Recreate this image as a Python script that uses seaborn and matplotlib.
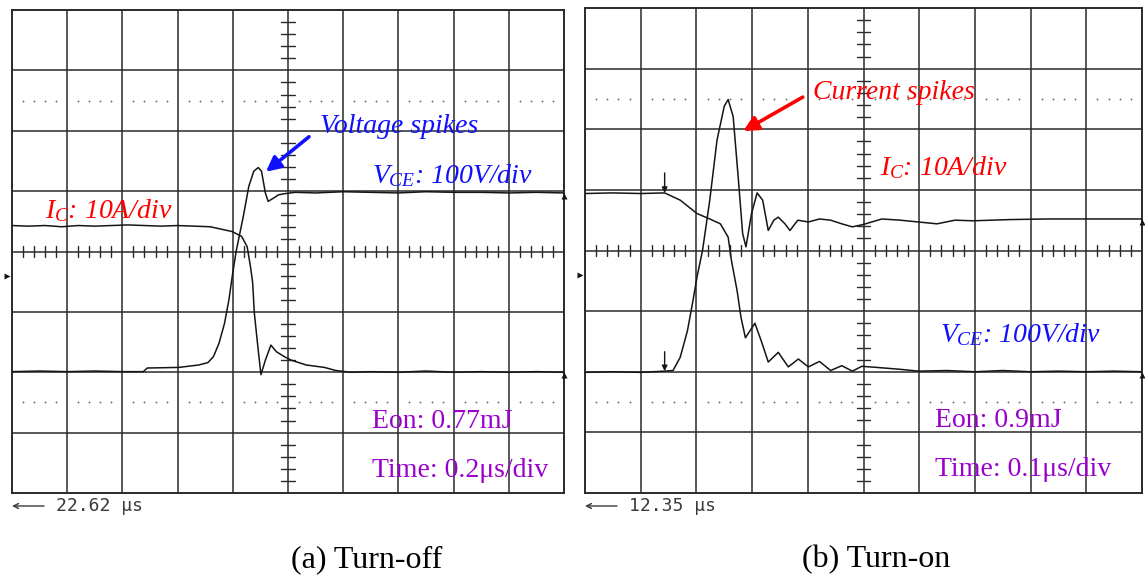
import matplotlib
matplotlib.use("Agg")
import matplotlib.pyplot as plt
import seaborn as sns

# ---------------- data (in oscilloscope divisions) ----------------
# (a) Turn-off : collector current (10 A/div) and V_CE (100 V/div)
off_ic_t = [0, 0.3, 0.6, 0.9, 1.2, 1.5, 1.8, 2.1, 2.4, 2.7, 3.0, 3.3, 3.59, 3.79, 3.99,
            4.16, 4.26, 4.32, 4.36, 4.39, 4.46, 4.51, 4.59, 4.69, 4.79, 4.93, 5.06, 5.33,
            5.66, 5.86, 6.13, 6.5, 7.0, 7.5, 8.0, 8.5, 9.0, 9.5, 10.0]
off_ic_v = [0.43, 0.42, 0.43, 0.41, 0.43, 0.42, 0.43, 0.44, 0.43, 0.42, 0.43, 0.42, 0.41,
            0.37, 0.33, 0.25, 0.08, -0.25, -0.52, -1.02, -1.63, -2.04, -1.80, -1.55, -1.66,
            -1.74, -1.80, -1.88, -1.92, -1.97, -2.00, -1.99, -2.00, -1.98, -2.00, -1.99,
            -2.00, -1.99, -2.00]
off_vce_t = [0, 0.5, 1.0, 1.5, 2.0, 2.38, 2.45, 3.02, 3.38, 3.55, 3.65, 3.75, 3.85, 3.93,
             3.99, 4.06, 4.19, 4.29, 4.38, 4.46, 4.52, 4.59, 4.64, 4.73, 4.83, 4.96, 5.13,
             5.5, 6.0, 6.5, 7.0, 7.5, 8.0, 8.5, 9.0, 9.5, 10.0]
off_vce_v = [-1.99, -1.98, -1.99, -1.98, -1.99, -1.99, -1.93, -1.92, -1.88, -1.84, -1.74,
             -1.52, -1.19, -0.80, -0.41, 0.00, 0.58, 1.08, 1.33, 1.39, 1.33, 0.97, 0.83,
             0.88, 0.94, 0.96, 0.98, 0.97, 0.99, 0.98, 0.97, 0.99, 0.98, 0.98, 0.97, 0.98,
             0.97]

# (b) Turn-on
on_ic_t = [0, 0.5, 1.0, 1.43, 1.58, 1.71, 1.84, 1.94, 2.01, 2.11, 2.24, 2.37, 2.5, 2.57,
           2.66, 2.76, 2.83, 2.89, 2.99, 3.09, 3.19, 3.29, 3.39, 3.47, 3.59, 3.68, 3.82,
           4.01, 4.21, 4.41, 4.61, 4.8, 5.0, 5.33, 5.66, 5.99, 6.32, 6.64, 6.97, 7.63,
           8.29, 8.95, 9.93, 10.0]
on_ic_v = [-2.01, -2.00, -2.01, -1.99, -1.98, -1.76, -1.32, -0.82, -0.44, 0.00, 0.83, 1.82,
           2.38, 2.49, 2.21, 1.10, 0.28, 0.06, 0.61, 0.95, 0.83, 0.33, 0.50, 0.55, 0.44,
           0.33, 0.50, 0.47, 0.52, 0.50, 0.44, 0.39, 0.43, 0.52, 0.50, 0.47, 0.44, 0.50,
           0.49, 0.51, 0.52, 0.52, 0.52, 0.52]
on_vce_t = [0, 0.5, 1.0, 1.43, 1.71, 2.01, 2.24, 2.43, 2.57, 2.63, 2.73, 2.8, 2.88, 3.05,
            3.16, 3.29, 3.47, 3.65, 3.83, 4.01, 4.21, 4.41, 4.61, 4.8, 4.97, 5.26, 5.66,
            5.99, 6.5, 7.0, 7.5, 8.0, 8.5, 9.0, 9.5, 10.0]
on_vce_v = [0.94, 0.95, 0.94, 0.95, 0.83, 0.61, 0.52, 0.44, 0.22, -0.17, -0.66, -1.10,
            -1.44, -1.20, -1.48, -1.84, -1.68, -1.92, -1.79, -1.92, -1.83, -1.98, -1.90,
            -1.99, -1.91, -1.93, -1.96, -1.99, -1.98, -2.00, -1.98, -2.00, -1.99, -2.00,
            -1.99, -2.00]
on_trigger_t = 1.43

captions = ["(a) Turn-off", "(b) Turn-on"]
delay_labels = ["22.62 \u03bcs", "12.35 \u03bcs"]
eon_labels = ["Eon: 0.77mJ", "Eon: 0.9mJ"]
time_labels = ["Time: 0.2\u03bcs/div", "Time: 0.1\u03bcs/div"]

# ---------------- style ----------------
sns.set_theme(style="white")
plt.rcParams["font.family"] = ["Liberation Serif", "DejaVu Serif"]
plt.rcParams["mathtext.fontset"] = "custom"
plt.rcParams["mathtext.rm"] = "Liberation Serif"
plt.rcParams["mathtext.it"] = "Liberation Serif:italic"
plt.rcParams["mathtext.bf"] = "Liberation Serif:bold"

W, H = 1145, 575
fig = plt.figure(figsize=(W / 100, H / 100), dpi=100)
fig.patch.set_facecolor("white")


def add_axes(l, r, t, b):
    return fig.add_axes([l / W, 1 - b / H, (r - l) / W, (b - t) / H])


GRID = "#2a2a2a"
BLUE = "#1010ff"
RED = "#ff0000"
PURPLE = "#9900cc"
TRACE = "#151515"


def scope(ax):
    ax.set_xlim(0, 10)
    ax.set_ylim(-4, 4)
    ax.set_xticks([])
    ax.set_yticks([])
    ax.set_facecolor("white")
    for k in range(1, 10):
        ax.axvline(k, color=GRID, lw=1.1, zorder=1)
    for k in range(-3, 4):
        ax.axhline(k, color=GRID, lw=1.1, zorder=1)
    for s in ax.spines.values():
        s.set_color(GRID)
        s.set_linewidth(1.4)
        s.set_visible(True)
    # minor ticks on the centre cross
    for k in range(1, 50):
        if k % 5:
            x = k * 0.2
            ax.plot([x, x], [-0.085, 0.085], color=GRID, lw=1.0, zorder=1)
    for k in range(-19, 20):
        if k % 5:
            y = k * 0.2
            ax.plot([4.88, 5.12], [y, y], color=GRID, lw=1.0, zorder=1)
    # dotted rows
    xs = [k * 0.2 for k in range(1, 50) if k % 5]
    for y in (2.5, -2.5):
        ax.plot(xs, [y] * len(xs), ls="none", marker="o", ms=1.3, mec="none",
                color="#666666", zorder=1)
    # channel ground-reference marker on the left edge
    ax.plot([-0.09], [-0.4], marker=">", ms=4.5, color=TRACE, mec="none",
            clip_on=False, zorder=5)


axL = add_axes(12, 564, 10, 493)
axR = add_axes(585, 1142, 8, 493)
for ax in (axL, axR):
    scope(ax)

kw = dict(color=TRACE, lw=1.1, estimator=None, sort=False, zorder=3)
sns.lineplot(x=off_ic_t, y=off_ic_v, ax=axL, **kw)
sns.lineplot(x=off_vce_t, y=off_vce_v, ax=axL, **kw)
sns.lineplot(x=on_ic_t, y=on_ic_v, ax=axR, **kw)
sns.lineplot(x=on_vce_t, y=on_vce_v, ax=axR, **kw)

# right-edge channel markers
for ax, ys in ((axL, (off_vce_v[-1], off_ic_v[-1])), (axR, (on_ic_v[-1], on_vce_v[-1]))):
    for y in ys:
        ax.plot([10.0], [y - 0.05], marker="^", ms=5, color=TRACE, mec="none",
                clip_on=False, zorder=5)

# trigger markers (turn-on)
for top, bot in ((on_vce_v[3] + 0.33, on_vce_v[3]), (on_ic_v[3] + 0.32, on_ic_v[3])):
    axR.annotate("", xy=(on_trigger_t, bot), xytext=(on_trigger_t, top),
                 arrowprops=dict(arrowstyle="-|>", color=TRACE, lw=1.0,
                                 mutation_scale=8, shrinkA=0, shrinkB=0), zorder=4)

FS = 20
# ---- panel (a) labels
axL.text(5.58, 1.97, "Voltage spikes", color=BLUE, fontsize=FS, style="italic",
         va="baseline", ha="left")
axL.annotate("", xy=(4.6, 1.32), xytext=(5.38, 1.9),
             arrowprops=dict(arrowstyle="-|>", color=BLUE, lw=2.6,
                             mutation_scale=22, shrinkA=0, shrinkB=0))
axL.text(6.52, 1.13, r"$V_{CE}$: 100V/div", color=BLUE, fontsize=FS, style="italic",
         va="baseline", ha="left")
axL.text(0.6, 0.55, r"$I_C$: 10A/div", color=RED, fontsize=FS, style="italic",
         va="baseline", ha="left")
axL.text(6.52, -2.92, eon_labels[0], color=PURPLE, fontsize=FS, va="baseline", ha="left")
axL.text(6.52, -3.73, time_labels[0], color=PURPLE, fontsize=FS, va="baseline", ha="left")

# ---- panel (b) labels
axR.text(4.09, 2.5, "Current spikes", color=RED, fontsize=FS, style="italic",
         va="baseline", ha="left")
axR.annotate("", xy=(2.84, 1.97), xytext=(3.91, 2.53),
             arrowprops=dict(arrowstyle="-|>", color=RED, lw=2.6,
                             mutation_scale=22, shrinkA=0, shrinkB=0))
axR.text(5.3, 1.25, r"$I_C$: 10A/div", color=RED, fontsize=FS, style="italic",
         va="baseline", ha="left")
axR.text(6.37, -1.51, r"$V_{CE}$: 100V/div", color=BLUE, fontsize=FS, style="italic",
         va="baseline", ha="left")
axR.text(6.28, -2.91, eon_labels[1], color=PURPLE, fontsize=FS, va="baseline", ha="left")
axR.text(6.28, -3.72, time_labels[1], color=PURPLE, fontsize=FS, va="baseline", ha="left")

# ---- delay labels (long left arrow + text) and captions
for x0, lab in zip((12, 585), delay_labels):
    ya = 1 - 506 / H
    fig.add_artist(matplotlib.patches.FancyArrowPatch(
        ((x0 + 32) / W, ya), (x0 / W, ya), transform=fig.transFigure,
        arrowstyle="->", mutation_scale=9, lw=1.0, color="#3a3a3a",
        shrinkA=0, shrinkB=0))
    fig.text((x0 + 44) / W, 1 - 511 / H, lab, family=["DejaVu Sans Mono", "DejaVu Sans"],
             fontsize=13, color="#3a3a3a", va="baseline", ha="left")
for xc, cap in zip((367, 876), captions):
    fig.text(xc / W, 1 - 567 / H, cap, fontsize=23, color="black",
             va="baseline", ha="center")

fig.savefig("out.png", dpi=100)
